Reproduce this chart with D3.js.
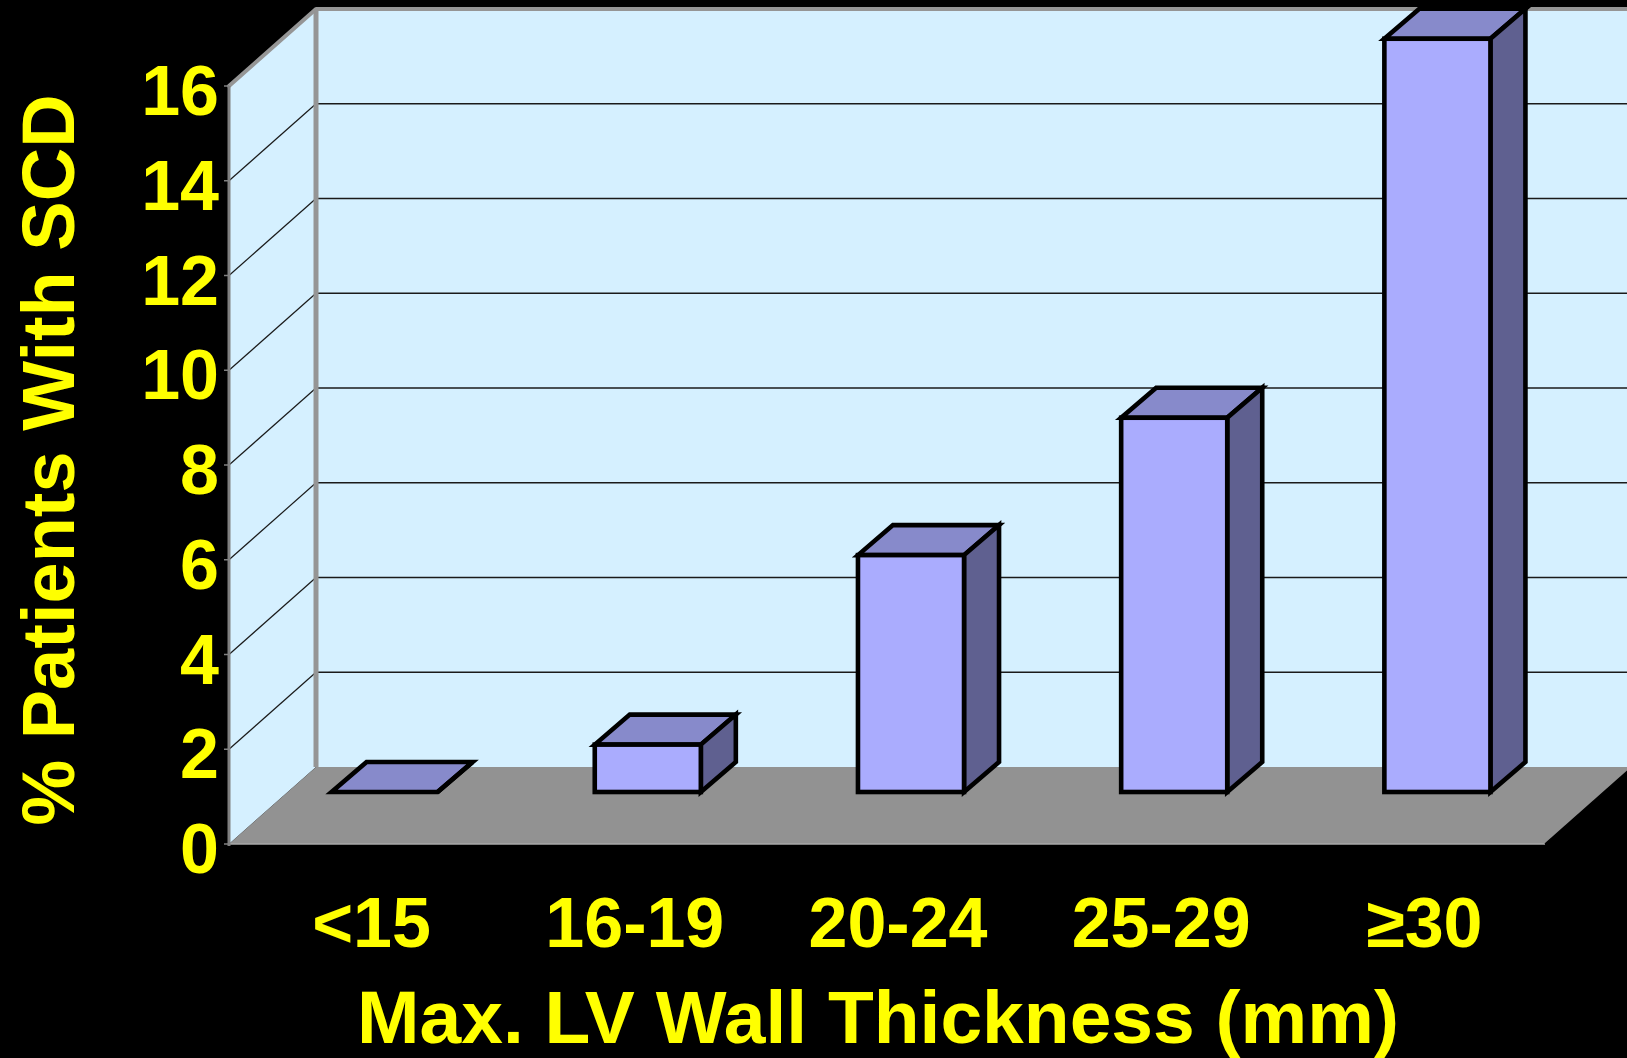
<!DOCTYPE html>
<html><head><meta charset="utf-8">
<script src="https://cdn.jsdelivr.net/npm/d3@7"></script>
<style>html,body{margin:0;padding:0;background:#000;overflow:hidden}</style>
</head><body>
<svg id="c" width="1627" height="1058"></svg>
<script>
const categories = ["<15", "16-19", "20-24", "25-29", "≥30"];
const values = [0, 1, 5, 7.9, 15.9];
const yTicks = [0, 2, 4, 6, 8, 10, 12, 14, 16];
const yTitle = "% Patients With SCD";
const xTitle = "Max. LV Wall Thickness (mm)";

const W = 1627, H = 1058;
const FONT = "'Liberation Sans', Arial, Helvetica, sans-serif";
const svg = d3.select("#c");
svg.append("rect").attr("width", W).attr("height", H).attr("fill", "#000");

const x0 = 229, x1 = 1545;
const x = d3.scaleBand().domain(categories).range([x0, x1]).paddingInner(0.597).paddingOuter(0.2985);
const y = d3.scaleLinear().domain([0, 16]).range([844, 86]);
const DX = 87, DY = 77;     // wall depth (oblique)
const BX = 24, BY = 52;     // bar front-face offset
const bdx = 35, bdy = 30;   // bar depth
const bw = x.bandwidth();
const line = d3.line();
const yMax = 16;

const wall = "#D5F0FF", floor = "#929292", edge = "#959595";

// side wall
svg.append("path").attr("d", line([[x0, y(0)], [x0, y(yMax)], [x0 + DX, y(yMax) - DY], [x0 + DX, y(0) - DY]]) + "Z")
  .attr("fill", wall);
// back wall
svg.append("rect").attr("x", x0 + DX).attr("y", y(yMax) - DY).attr("width", W - (x0 + DX) + 5)
  .attr("height", y(0) - y(yMax)).attr("fill", wall);
// floor
svg.append("path").attr("d", line([[x0, y(0)], [x0 + DX, y(0) - DY], [x1 + DX, y(0) - DY], [x1, y(0)]]) + "Z")
  .attr("fill", floor);
svg.append("line").attr("x1", x0).attr("x2", x1).attr("y1", y(0)).attr("y2", y(0))
  .attr("stroke", "#a8a8a8").attr("stroke-width", 1.5);
svg.append("line").attr("x1", x1).attr("x2", x1 + DX).attr("y1", y(0)).attr("y2", y(0) - DY)
  .attr("stroke", "#000").attr("stroke-width", 1.5);

// gridlines
const grid = yTicks.filter(v => v > 0 && v < yMax);
svg.selectAll(".gb").data(grid).enter().append("line")
  .attr("x1", x0 + DX).attr("x2", W).attr("y1", d => y(d) - DY).attr("y2", d => y(d) - DY)
  .attr("stroke", "#1a1a1a").attr("stroke-width", 1.3);
svg.selectAll(".gs").data(grid).enter().append("line")
  .attr("x1", x0).attr("x2", x0 + DX).attr("y1", d => y(d)).attr("y2", d => y(d) - DY)
  .attr("stroke", "#1a1a1a").attr("stroke-width", 1.2);

// wall edges
svg.append("line").attr("x1", x0 + DX).attr("x2", W).attr("y1", y(yMax) - DY).attr("y2", y(yMax) - DY)
  .attr("stroke", edge).attr("stroke-width", 4);
svg.append("line").attr("x1", x0 + DX).attr("x2", x0 + DX).attr("y1", y(yMax) - DY).attr("y2", y(0) - DY)
  .attr("stroke", edge).attr("stroke-width", 5);
svg.append("line").attr("x1", x0).attr("x2", x0 + DX).attr("y1", y(yMax)).attr("y2", y(yMax) - DY)
  .attr("stroke", edge).attr("stroke-width", 4).attr("stroke-linecap", "round");
svg.append("line").attr("x1", x0).attr("x2", x0).attr("y1", y(yMax)).attr("y2", y(0) + 2)
  .attr("stroke", "#808080").attr("stroke-width", 3);
svg.selectAll(".tk").data(yTicks).enter().append("line")
  .attr("x1", x0 - 5).attr("x2", x0).attr("y1", d => y(d)).attr("y2", d => y(d))
  .attr("stroke", "#808080").attr("stroke-width", 1.5);

// bars
const bars = svg.selectAll(".bar").data(categories.map((c, i) => ({c, v: values[i]}))).enter()
  .append("g").attr("class", "bar");
bars.each(function(d) {
  const g = d3.select(this);
  const L = x(d.c) + BX, R = L + bw, Yb = y(0) - BY, Yt = y(d.v) - BY;
  const st = s => s.attr("stroke", "#000").attr("stroke-width", 4.6).attr("stroke-linejoin", "miter");
  st(g.append("path").attr("d", line([[L, Yt], [L + bdx, Yt - bdy], [R + bdx, Yt - bdy], [R, Yt]]) + "Z").attr("fill", "#878ACB"));
  st(g.append("path").attr("d", line([[R, Yt], [R + bdx, Yt - bdy], [R + bdx, Yb - bdy], [R, Yb]]) + "Z").attr("fill", "#5F6090"));
  st(g.append("rect").attr("x", L).attr("y", Yt).attr("width", bw).attr("height", Yb - Yt).attr("fill", "#AAACFE"));
});

// y tick labels
svg.selectAll(".yl").data(yTicks).enter().append("text")
  .attr("x", 219).attr("y", d => y(d) + 29).attr("text-anchor", "end")
  .attr("font-family", FONT).attr("font-weight", "bold").attr("font-size", 70)
  .attr("fill", "#FFFF00").text(d => d);

// x labels
svg.selectAll(".xl").data(categories).enter().append("text")
  .attr("x", d => x(d) + bw / 2 + 11).attr("y", 947).attr("text-anchor", "middle")
  .attr("font-family", FONT).attr("font-weight", "bold").attr("font-size", 70)
  .attr("fill", "#FFFF00").text(d => d);

// titles
svg.append("text").attr("x", 878).attr("y", 1043).attr("text-anchor", "middle")
  .attr("font-family", FONT).attr("font-weight", "bold").attr("font-size", 75)
  .attr("fill", "#FFFF00").text(xTitle);
svg.append("text").attr("transform", "translate(74,460) rotate(-90)").attr("text-anchor", "middle")
  .attr("font-family", FONT).attr("font-weight", "bold").attr("font-size", 74)
  .attr("fill", "#FFFF00").text(yTitle);
</script>
</body></html>
